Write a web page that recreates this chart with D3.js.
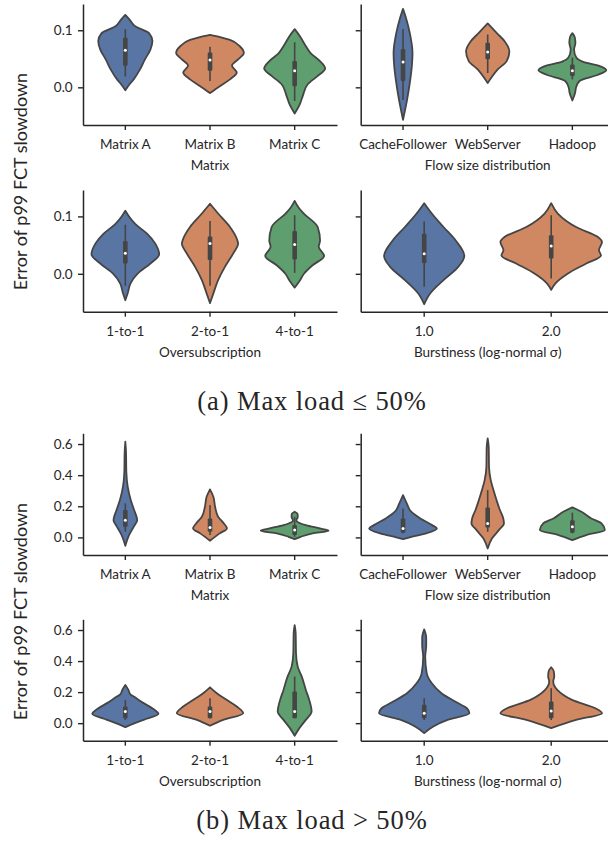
<!DOCTYPE html>
<html>
<head>
<meta charset="utf-8">
<script src="https://cdn.jsdelivr.net/npm/d3@7"></script>
<style>
  body { margin: 0; background: #fff; }
  text { font-family: Lato, "Open Sans", sans-serif; fill: #262626; }
</style>
</head>
<body>
<svg id="chart"></svg>
<script>
// categories per panel
var matrixCats = ["Matrix A", "Matrix B", "Matrix C"];
var flowCats = ["CacheFollower", "WebServer", "Hadoop"];
var overCats = ["1-to-1", "2-to-1", "4-to-1"];
var burstCats = ["1.0", "2.0"];
var violinColors = ["#5975a4", "#cf8862", "#5f9e6e"];

// y ticks
var lowTicks = [0.0, 0.1];
var highTicks = [0.0, 0.2, 0.4, 0.6];

// violin profiles: [value, relative half width], one list per category
// box stats: [whisker low, q1, median, q3, whisker high]

// (a) max load <= 50%
var lowMatrixDens = [
  [[-0.005,0],[0.002,0.08],[0.0135,0.24],[0.031,0.43],[0.049,0.58],[0.066,0.74],[0.081,0.80],[0.095,0.70],[0.107,0.29],[0.119,0.12],[0.127,0]],
  [[-0.010,0],[0.002,0.29],[0.014,0.59],[0.026,0.79],[0.038,0.65],[0.049,0.83],[0.060,1.0],[0.072,0.88],[0.083,0.59],[0.088,0.3],[0.092,0]],
  [[-0.046,0],[-0.03,0.15],[-0.015,0.24],[0.005,0.38],[0.02,0.68],[0.033,0.9],[0.045,0.76],[0.06,0.47],[0.075,0.3],[0.09,0.15],[0.102,0]]
];
var lowMatrixBox = [[0.019,0.038,0.065,0.087,0.102],[0.011,0.029,0.048,0.061,0.071],[-0.024,0.002,0.029,0.046,0.079]];

var lowFlowDens = [
  [[-0.057,0],[-0.0216,0.12],[0.0077,0.2],[0.037,0.26],[0.060,0.28],[0.095,0.2],[0.119,0.1],[0.1375,0]],
  [[0.0077,0],[0.0165,0.1],[0.031,0.29],[0.046,0.56],[0.063,0.64],[0.08,0.51],[0.095,0.27],[0.112,0]],
  [[-0.023,0],[-0.01,0.08],[0.0,0.11],[0.0115,0.22],[0.022,0.76],[0.030,1.0],[0.037,0.81],[0.045,0.3],[0.052,0.12],[0.066,0.05],[0.078,0.09],[0.088,0.07],[0.095,0]]
];
var lowFlowBox = [[-0.022,0.011,0.0445,0.067,0.102],[0.025,0.049,0.062,0.078,0.0925],[0.014,0.020,0.029,0.040,0.052]];

var lowOverDens = [
  [[-0.046,0],[-0.034,0.07],[-0.017,0.15],[0.0006,0.37],[0.018,0.74],[0.034,1.0],[0.053,0.88],[0.070,0.64],[0.087,0.29],[0.099,0.12],[0.110,0]],
  [[-0.051,0],[-0.034,0.1],[-0.011,0.24],[0.012,0.44],[0.035,0.68],[0.0526,0.83],[0.058,0.81],[0.0815,0.59],[0.105,0.24],[0.122,0]],
  [[-0.024,0],[-0.011,0.16],[0.0006,0.28],[0.015,0.53],[0.031,0.87],[0.047,0.71],[0.058,0.75],[0.0815,0.68],[0.105,0.27],[0.115,0.12],[0.127,0]]
];
var lowOverBox = [[-0.021,0.018,0.036,0.057,0.0855],[-0.021,0.024,0.0526,0.065,0.092],[0.0017,0.025,0.051,0.0746,0.102]];

var lowBurstDens = [
  [[-0.053,0],[-0.034,0.12],[-0.011,0.38],[0.012,0.67],[0.031,0.79],[0.058,0.62],[0.0815,0.38],[0.105,0.15],[0.123,0]],
  [[-0.028,0],[-0.017,0.08],[0.0006,0.33],[0.018,0.69],[0.032,0.98],[0.041,0.94],[0.0555,1.0],[0.064,0.92],[0.0815,0.49],[0.105,0.13],[0.123,0]]
];
var lowBurstBox = [[-0.0225,0.019,0.035,0.070,0.091],[-0.008,0.0266,0.0486,0.067,0.102]];

// (b) max load > 50%
var highMatrixDens = [
  [[-0.054,0],[0.015,0.11],[0.069,0.25],[0.111,0.35],[0.176,0.26],[0.24,0.16],[0.326,0.07],[0.42,0.03],[0.55,0.02],[0.615,0]],
  [[-0.021,0],[0.026,0.29],[0.058,0.5],[0.09,0.41],[0.133,0.24],[0.197,0.15],[0.261,0.1],[0.309,0]],
  [[-0.011,0],[0.004,0.18],[0.026,0.53],[0.043,1.0],[0.055,0.8],[0.079,0.33],[0.1,0.08],[0.111,0.05],[0.13,0.09],[0.148,0.09],[0.165,0]]
];
var highMatrixBox = [[0.036,0.069,0.111,0.176,0.219],[0.015,0.036,0.064,0.122,0.208],[0.004,0.015,0.047,0.079,0.133]];

var highFlowDens = [
  [[-0.011,0],[0.0,0.2],[0.026,0.68],[0.058,1.0],[0.079,0.86],[0.122,0.51],[0.165,0.24],[0.219,0.11],[0.272,0]],
  [[-0.071,0],[-0.006,0.13],[0.047,0.33],[0.09,0.48],[0.122,0.46],[0.176,0.36],[0.24,0.26],[0.304,0.17],[0.368,0.09],[0.45,0.04],[0.58,0.03],[0.636,0]],
  [[-0.017,0],[0.015,0.41],[0.047,0.96],[0.09,0.86],[0.122,0.56],[0.165,0.27],[0.193,0]]
];
var highFlowBox = [[0.026,0.03,0.058,0.122,0.186],[0.036,0.064,0.09,0.193,0.304],[0.026,0.03,0.069,0.111,0.159]];

var highOverDens = [
  [[-0.026,0],[-0.011,0.15],[0.021,0.54],[0.06,0.98],[0.086,0.86],[0.129,0.54],[0.171,0.25],[0.185,0.15],[0.214,0.09],[0.246,0]],
  [[-0.017,0],[0.021,0.39],[0.064,0.98],[0.107,0.79],[0.15,0.49],[0.193,0.2],[0.231,0]],
  [[-0.081,0],[-0.032,0.14],[0.021,0.33],[0.075,0.5],[0.15,0.43],[0.214,0.33],[0.3,0.21],[0.364,0.09],[0.45,0.04],[0.58,0.03],[0.632,0]]
];
var highOverBox = [[0.021,0.032,0.075,0.107,0.15],[0.032,0.032,0.075,0.107,0.161],[0.032,0.032,0.075,0.204,0.3]];

var highBurstDens = [
  [[-0.064,0],[-0.021,0.18],[0.021,0.46],[0.064,0.89],[0.096,0.84],[0.139,0.61],[0.193,0.34],[0.257,0.15],[0.321,0.05],[0.428,0.02],[0.5,0.04],[0.55,0.04],[0.604,0]],
  [[-0.032,0],[0.021,0.49],[0.064,1.0],[0.096,0.87],[0.15,0.41],[0.214,0.12],[0.268,0.04],[0.3,0.06],[0.335,0.05],[0.36,0]]
];
var highBurstBox = [[0.021,0.032,0.064,0.118,0.161],[0.021,0.032,0.079,0.139,0.225]];

var W = 608, H = 847;
var axisColor = "#262626";
var edgeColor = "#454545";

var svg = d3.select("#chart").attr("width", W).attr("height", H);

// panel x extents
var leftX = [83, 337];
var rightX = [360.7, 614.7];

function drawPanel(cats, dens, box, xr, yr, domain, ticks, showTickLabels, xlabel) {
  var x = d3.scaleBand().domain(cats).range(xr).padding(0);
  var y = d3.scaleLinear().domain(domain).range(yr);
  var w = d3.scaleLinear().domain([0, 1]).range([0, x.bandwidth() * 0.4]);
  var g = svg.append("g");

  // violins
  cats.forEach(function(c, i) {
    var cx = x(c) + x.bandwidth() / 2;
    var area = d3.area()
      .curve(d3.curveMonotoneY)
      .y(function(d) { return y(d[0]); })
      .x0(function(d) { return cx - w(d[1]); })
      .x1(function(d) { return cx + w(d[1]); });
    g.append("path")
      .attr("d", area(dens[i]))
      .attr("fill", violinColors[i])
      .attr("stroke", edgeColor)
      .attr("stroke-width", 1.8)
      .attr("stroke-linejoin", "round");

    var b = box[i];
    g.append("line")
      .attr("x1", cx).attr("x2", cx)
      .attr("y1", y(b[0])).attr("y2", y(b[4]))
      .attr("stroke", edgeColor).attr("stroke-width", 1.6);
    g.append("rect")
      .attr("x", cx - 2.3).attr("width", 4.6)
      .attr("y", y(b[3])).attr("height", Math.max(1, y(b[1]) - y(b[3])))
      .attr("rx", 1)
      .attr("fill", edgeColor);
    g.append("circle")
      .attr("cx", cx).attr("cy", y(b[2])).attr("r", 1.5)
      .attr("fill", "white");
  });

  // x axis
  var xa = g.append("g")
    .attr("transform", "translate(0," + yr[0] + ")")
    .call(d3.axisBottom(x).tickSize(5).tickSizeOuter(0).tickPadding(9.6));
  xa.selectAll("text").style("font-size", "13.5px").attr("fill", axisColor);

  // y axis
  var ya = g.append("g")
    .attr("transform", "translate(" + xr[0] + ",0)")
    .call(d3.axisLeft(y).tickValues(ticks).tickFormat(d3.format(".1f"))
      .tickSize(5).tickSizeOuter(0).tickPadding(5.3));
  ya.selectAll("text").style("font-size", "13.5px").attr("fill", axisColor);
  if (!showTickLabels) ya.selectAll("text").remove();

  [xa, ya].forEach(function(a) {
    a.select(".domain").attr("stroke", axisColor).attr("stroke-width", 1.5);
    a.selectAll(".tick line").attr("stroke", axisColor).attr("stroke-width", 1.4);
  });

  g.append("text")
    .attr("x", (xr[0] + xr[1]) / 2)
    .attr("y", yr[0] + 45)
    .attr("text-anchor", "middle")
    .style("font-size", "13.5px")
    .text(xlabel);
}

var lowDomain = [-0.066, 0.146];
var highDomain = [-0.113, 0.669];

// (a)
drawPanel(matrixCats, lowMatrixDens, lowMatrixBox, leftX, [125, 4], lowDomain, lowTicks, true, "Matrix");
drawPanel(flowCats, lowFlowDens, lowFlowBox, rightX, [125, 4], lowDomain, lowTicks, false, "Flow size distribution");
drawPanel(overCats, lowOverDens, lowOverBox, leftX, [311.7, 190], lowDomain, lowTicks, true, "Oversubscription");
drawPanel(burstCats, lowBurstDens, lowBurstBox, rightX, [311.7, 190], lowDomain, lowTicks, false, "Burstiness (log-normal \u03c3)");

// (b)
drawPanel(matrixCats, highMatrixDens, highMatrixBox, leftX, [555, 433.3], highDomain, highTicks, true, "Matrix");
drawPanel(flowCats, highFlowDens, highFlowBox, rightX, [555, 433.3], highDomain, highTicks, false, "Flow size distribution");
drawPanel(overCats, highOverDens, highOverBox, leftX, [740.7, 619.3], highDomain, highTicks, true, "Oversubscription");
drawPanel(burstCats, highBurstDens, highBurstBox, rightX, [740.7, 619.3], highDomain, highTicks, false, "Burstiness (log-normal \u03c3)");

// shared y labels
[181.5, 611.5].forEach(function(cy) {
  svg.append("text")
    .attr("transform", "translate(26.5," + cy + ") rotate(-90)")
    .attr("text-anchor", "middle")
    .style("font-size", "18px")
    .text("Error of p99 FCT slowdown");
});

// captions
var captions = [["(a) Max load \u2264 50%", 410], ["(b) Max load > 50%", 829]];
captions.forEach(function(c) {
  svg.append("text")
    .attr("x", 312).attr("y", c[1])
    .attr("text-anchor", "middle")
    .style("font-family", "'Liberation Serif', serif")
    .style("font-size", "26.5px")
    .style("letter-spacing", "0.9px")
    .attr("fill", "#111")
    .text(c[0]);
});
</script>
</body>
</html>
